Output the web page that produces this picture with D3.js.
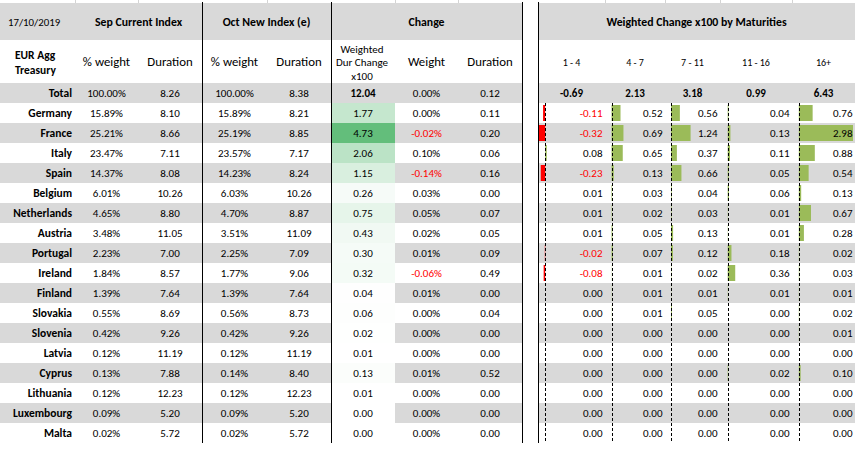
<!DOCTYPE html>
<html><head><meta charset="utf-8">
<script src="https://cdn.jsdelivr.net/npm/d3@7"></script>
<style>
body{margin:0;background:#fff}
svg{display:block}
text{font-family:Carlito,Calibri,Lato,sans-serif;fill:#000}
</style>
</head><body>
<svg id="c" width="855" height="449"></svg>
<script>
// ---------- DATA ----------
const reportDate = "17/10/2019";
const countries = ["Germany","France","Italy","Spain","Belgium","Netherlands","Austria","Portugal","Ireland","Finland","Slovakia","Slovenia","Latvia","Cyprus","Lithuania","Luxembourg","Malta"];
const sepWeight   = [15.89,25.21,23.47,14.37,6.01,4.65,3.48,2.23,1.84,1.39,0.55,0.42,0.12,0.13,0.12,0.09,0.02];
const sepDuration = [8.10,8.66,7.11,8.08,10.26,8.80,11.05,7.00,8.57,7.64,8.69,9.26,11.19,7.88,12.23,5.20,5.72];
const octWeight   = [15.89,25.19,23.57,14.23,6.03,4.70,3.51,2.25,1.77,1.39,0.56,0.42,0.12,0.14,0.12,0.09,0.02];
const octDuration = [8.21,8.85,7.17,8.24,10.26,8.87,11.09,7.09,9.06,7.64,8.73,9.26,11.19,8.40,12.23,5.20,5.72];
const wtdDurChange = [1.77,4.73,2.06,1.15,0.26,0.75,0.43,0.30,0.32,0.04,0.06,0.02,0.01,0.13,0.01,0.00,0.00];
const chgWeight   = [0.00,-0.02,0.10,-0.14,0.03,0.05,0.02,0.01,-0.06,0.01,0.00,0.00,0.00,0.01,0.00,0.00,0.00];
const chgDuration = [0.11,0.20,0.06,0.16,0.00,0.07,0.05,0.09,0.49,0.00,0.04,0.00,0.00,0.52,0.00,0.00,0.00];
const totals = {sepWeight:100.00, sepDuration:8.26, octWeight:100.00, octDuration:8.38, wtdDurChange:12.04, chgWeight:0.00, chgDuration:0.12};

const maturityLabels = ["1 - 4","4 - 7","7 - 11","11 - 16","16+"];
const mat1_4   = [-0.11,-0.32,0.08,-0.23,0.01,0.01,0.01,-0.02,-0.08,0.00,0.00,0.00,0.00,0.00,0.00,0.00,0.00];
const mat4_7   = [0.52,0.69,0.65,0.13,0.03,0.02,0.05,0.07,0.01,0.01,0.01,0.00,0.00,0.00,0.00,0.00,0.00];
const mat7_11  = [0.56,1.24,0.37,0.66,0.04,0.03,0.13,0.12,0.02,0.01,0.05,0.00,0.00,0.00,0.00,0.00,0.00];
const mat11_16 = [0.04,0.13,0.11,0.05,0.06,0.01,0.01,0.18,0.36,0.01,0.00,0.00,0.00,0.02,0.00,0.00,0.00];
const mat16p   = [0.76,2.98,0.88,0.54,0.13,0.67,0.28,0.02,0.03,0.01,0.02,0.01,0.00,0.10,0.00,0.00,0.00];
const maturityTotals = [-0.69,2.13,3.18,0.99,6.43];
const maturitySeries = [mat1_4,mat4_7,mat7_11,mat11_16,mat16p];

// ---------- LAYOUT ----------
const svg = d3.select("#c");
const GRAY = "#D9D9D9";
const rows = ["Total"].concat(countries);
const y = d3.scaleBand().domain(d3.range(rows.length)).range([83,443]);
const f2 = v => v.toFixed(2);
const pct = v => v.toFixed(2) + "%";

const cols = [
  {key:"sepWeight",   x0:75,  x1:138, fmt:pct, vals:sepWeight},
  {key:"sepDuration", x0:138, x1:202, fmt:f2,  vals:sepDuration},
  {key:"octWeight",   x0:202, x1:267, fmt:pct, vals:octWeight},
  {key:"octDuration", x0:267, x1:331, fmt:f2,  vals:octDuration},
  {key:"wtdDurChange",x0:331, x1:395, fmt:f2,  vals:wtdDurChange},
  {key:"chgWeight",   x0:395, x1:458, fmt:pct, vals:chgWeight, red:true},
  {key:"chgDuration", x0:458, x1:522, fmt:f2,  vals:chgDuration}
];
const matCells = [[538,605],[605,665],[665,720],[720,792],[792,855]];

svg.selectAll("line.grid").data([75,138,267,395,458,605,665,720,792]).enter()
  .append("line").attr("x1",d=>d+0.5).attr("x2",d=>d+0.5).attr("y1",0).attr("y2",3)
  .attr("stroke","#D4D4D4");

svg.append("rect").attr("x",0).attr("y",3).attr("width",522).attr("height",37).attr("fill",GRAY);
svg.append("rect").attr("x",538).attr("y",3).attr("width",317).attr("height",37).attr("fill",GRAY);

rows.forEach((r,i)=>{
  if(i%2===0){
    svg.append("rect").attr("x",0).attr("y",y(i)).attr("width",522).attr("height",y.bandwidth()).attr("fill",GRAY);
    svg.append("rect").attr("x",538).attr("y",y(i)).attr("width",317).attr("height",y.bandwidth()).attr("fill",GRAY);
  }
});

const cScale = d3.scaleLinear().domain([d3.min(wtdDurChange), d3.max(wtdDurChange)]).range(["#FFFFFF","#63BE7B"]);
svg.selectAll("rect.heat").data(wtdDurChange).enter().append("rect")
  .attr("x",331).attr("y",(d,i)=>y(i+1)).attr("width",64).attr("height",y.bandwidth())
  .attr("fill",d=>cScale(d));

function txt(x,yy,s,opt={}){
  return svg.append("text").attr("x",x).attr("y",yy).attr("dy","0.35em")
    .attr("text-anchor",opt.anchor||"middle")
    .attr("font-size",opt.size||11)
    .attr("font-weight",opt.bold?"bold":"normal")
    .style("fill",opt.fill||"#000")
    .text(s);
}
txt(8,22,reportDate,{anchor:"start",size:10.8});
txt(138.5,22,"Sep Current Index",{bold:true,size:11.8});
txt(266.5,22,"Oct New Index (e)",{bold:true,size:11.8});
txt(426.5,22,"Change",{bold:true,size:11.8});
txt(696.5,22,"Weighted Change x100 by Maturities",{bold:true,size:11.8});

txt(15,54.5,"EUR Agg",{anchor:"start",bold:true,size:11.5});
txt(15,70,"Treasury",{anchor:"start",bold:true,size:11.5});
const hdr2 = [["% weight",106.5],["Duration",170],["% weight",234.5],["Duration",299],["Weight",426.5],["Duration",490]];
hdr2.forEach(h=>txt(h[1],62,h[0],{size:12.8}));
txt(362,49,"Weighted",{size:11});
txt(362,62.5,"Dur Change",{size:11});
txt(362,76.5,"x100",{size:11});
maturityLabels.forEach((m,i)=>txt((matCells[i][0]+matCells[i][1])/2,62,m,{size:10}));

rows.forEach((r,i)=>txt(72,y(i)+y.bandwidth()/2,r,{anchor:"end",bold:true,size:11.5}));

cols.forEach(c=>{
  const cx=(c.x0+c.x1)/2;
  txt(cx,y(0)+10,c.fmt(totals[c.key]),{bold:c.key==="wtdDurChange"});
  c.vals.forEach((v,i)=>{
    txt(cx,y(i+1)+10,c.fmt(v),{fill:(c.red&&v<0)?"#FF0000":"#000"});
  });
});

const mMin = d3.min(maturitySeries.flat()), mMax = d3.max(maturitySeries.flat());
maturitySeries.forEach((ser,k)=>{
  const [x0,x1]=matCells[k];
  const xs = d3.scaleLinear().domain([Math.min(0,mMin),mMax]).range([x0+1,x1-2]);
  const g = svg.append("g");
  g.selectAll("rect").data(ser).enter().append("rect")
    .attr("x",d=>Math.min(xs(0),xs(d)))
    .attr("y",(d,i)=>y(i+1)+2)
    .attr("width",d=>Math.abs(xs(d)-xs(0)))
    .attr("height",y.bandwidth()-4)
    .attr("fill",d=>d<0?"#FF0000":"#9BBB59");
  const ax = Math.round(xs(0))+0.5;
  g.append("line").attr("x1",ax).attr("x2",ax).attr("y1",y(1)).attr("y2",443)
    .attr("stroke","#000").attr("stroke-dasharray","3,2");
  txt((x0+x1)/2,y(0)+10,f2(maturityTotals[k]),{bold:true,size:11});
  ser.forEach((v,i)=>txt(x1-2.5,y(i+1)+10,f2(v),{anchor:"end",fill:v<0?"#FF0000":"#000"}));
});

[202,331,522,538].forEach(x=>{
  svg.append("line").attr("x1",x+0.5).attr("x2",x+0.5).attr("y1",2).attr("y2",443)
    .attr("stroke","#000").attr("stroke-width",1);
});
</script>
</body></html>
